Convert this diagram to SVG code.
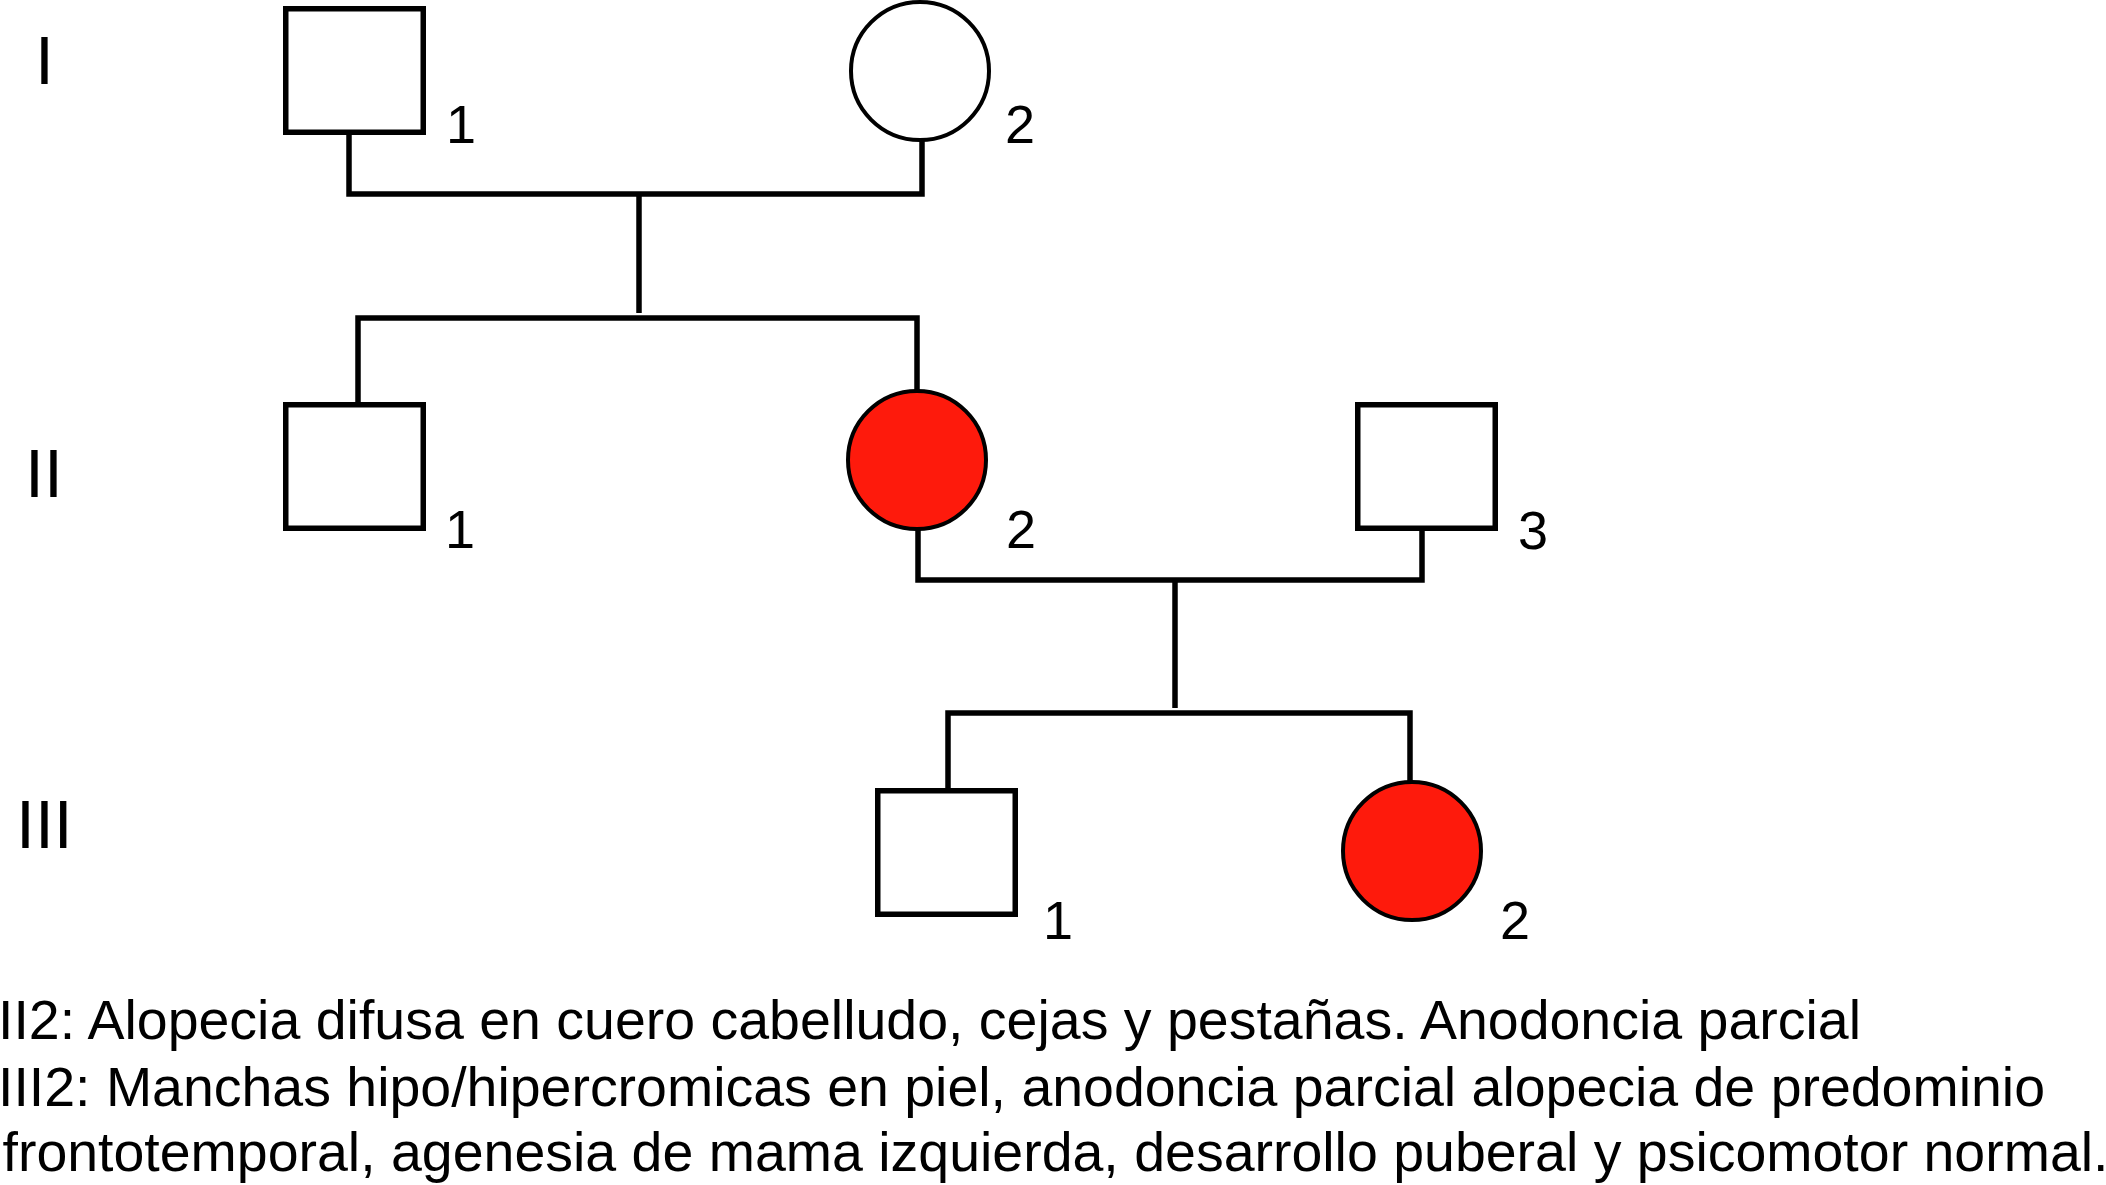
<svg xmlns="http://www.w3.org/2000/svg" width="2106" height="1185" viewBox="0 0 2106 1185">
<style>
.sq{fill:#fff;stroke:#000;stroke-width:5.5}
.ci{fill:#fff;stroke:#000;stroke-width:4}
.aff{fill:#fe1a0c}
.ln{fill:none;stroke:#000;stroke-width:5.5;stroke-linecap:butt;stroke-linejoin:miter}
.num{font-family:"Liberation Sans",Arial,sans-serif;font-size:54px;fill:#000}
.gen{font-family:"Liberation Sans",Arial,sans-serif;font-size:68px;fill:#000}
.note{font-family:"Liberation Sans",Arial,sans-serif;font-size:55px;fill:#000}
</style>
<rect width="2106" height="1185" fill="#fff"/>
<g id="connectors">
<path class="ln" d="M349,135 V194 H922 V140"/>
<path class="ln" d="M639,194 V313"/>
<path class="ln" d="M358,402 V318 H917 V390"/>
<path class="ln" d="M918,530 V580 H1422 V531"/>
<path class="ln" d="M1175,580 V708"/>
<path class="ln" d="M948,788 V713 H1410 V781"/>
</g>
<g id="gen-labels">
<text class="gen" x="35" y="84">I</text>
<text class="gen" x="25" y="497">II</text>
<text class="gen" x="16" y="848">III</text>
</g>
<g id="I-1">
<rect class="sq" x="285.75" y="8.75" width="137.5" height="123.5"/>
<text class="num" x="446" y="143">1</text>
</g>
<g id="I-2">
<circle class="ci" cx="920" cy="71" r="69"/>
<text class="num" x="1005" y="143">2</text>
</g>
<g id="II-1">
<rect class="sq" x="285.75" y="404.75" width="137.5" height="123.5"/>
<text class="num" x="445" y="548">1</text>
</g>
<g id="II-2">
<circle class="ci aff" cx="917" cy="460" r="69"/>
<text class="num" x="1006" y="548">2</text>
</g>
<g id="II-3">
<rect class="sq" x="1357.75" y="404.75" width="137.5" height="123.5"/>
<text class="num" x="1518" y="549">3</text>
</g>
<g id="III-1">
<rect class="sq" x="877.75" y="790.75" width="137.5" height="123.5"/>
<text class="num" x="1043" y="939">1</text>
</g>
<g id="III-2">
<circle class="ci aff" cx="1412" cy="851" r="69"/>
<text class="num" x="1500" y="939">2</text>
</g>
<g id="notes">
<text class="note" x="-2" y="1039" textLength="1863" lengthAdjust="spacingAndGlyphs">II2: Alopecia difusa en cuero cabelludo, cejas y pestañas. Anodoncia parcial</text>
<text class="note" x="-2" y="1106" textLength="2047" lengthAdjust="spacingAndGlyphs">III2: Manchas hipo/hipercromicas en piel, anodoncia parcial alopecia de predominio</text>
<text class="note" x="2.5" y="1171" textLength="2106" lengthAdjust="spacingAndGlyphs">frontotemporal, agenesia de mama izquierda, desarrollo puberal y psicomotor normal.</text>
</g>
</svg>
